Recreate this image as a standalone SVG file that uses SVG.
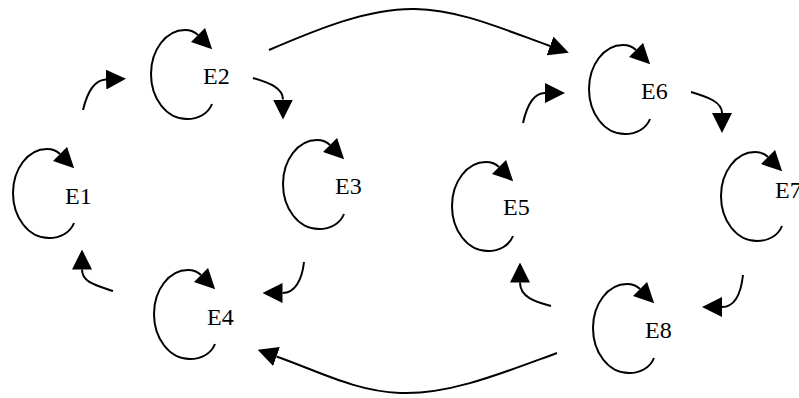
<svg xmlns="http://www.w3.org/2000/svg" xmlns:xlink="http://www.w3.org/1999/xlink" width="799" height="398" viewBox="0 0 799 398">
<style>
.ln{fill:none;stroke:#000;stroke-width:2;marker-end:url(#ah)}
.lb{font-family:"Liberation Serif","Times New Roman",serif;font-size:24px;fill:#000}
</style>
<defs>
<marker id="ah" markerUnits="userSpaceOnUse" markerWidth="20" markerHeight="20" viewBox="0 0 20 20" refX="0" refY="10" orient="auto">
<path d="M0,0 L20,10 L0,20 z" fill="#000"/>
</marker>
<path id="loop" class="ln" d="M9,20 C5,30 -5,35 -16,35 C-37,35 -52,14 -52,-10 C-52,-34 -37,-54 -18,-54 C-12,-54 -8,-52 -5,-49"/>
</defs>
<rect width="799" height="398" fill="#fff"/>
<g id="E1"><use xlink:href="#loop" transform="translate(65,203)"/><text class="lb" x="65" y="204">E1</text></g>
<g id="E2"><use xlink:href="#loop" transform="translate(203,84)"/><text class="lb" x="203" y="84">E2</text></g>
<g id="E3"><use xlink:href="#loop" transform="translate(335,194)"/><text class="lb" x="335" y="194">E3</text></g>
<g id="E4"><use xlink:href="#loop" transform="translate(206,324)"/><text class="lb" x="207" y="325">E4</text></g>
<g id="E5"><use xlink:href="#loop" transform="translate(504,216)"/><text class="lb" x="503" y="215">E5</text></g>
<g id="E6"><use xlink:href="#loop" transform="translate(641,99)"/><text class="lb" x="641" y="99">E6</text></g>
<g id="E7"><use xlink:href="#loop" transform="translate(773,206)"/><text class="lb" x="775" y="198">E7</text></g>
<g id="E8"><use xlink:href="#loop" transform="translate(645,338)"/><text class="lb" x="645" y="338">E8</text></g>
<g id="connectors">
<path class="ln" d="M83,110 C87,93 94,80 106,79.5"/>
<path class="ln" d="M253,78 C270,83 283,88 283,99.5"/>
<path class="ln" d="M269,50 C320,28 370,8 415,9 C460,10 500,28 550,46"/>
<path class="ln" d="M304,262 C302,280 295,293 282.5,293"/>
<path class="ln" d="M113,291 C95,285 82,282 82,269.5"/>
<path class="ln" d="M557,353 C505,372 450,395 400,393 C355,391 320,372 276.5,356.5"/>
<path class="ln" d="M551,306 C535,302 520,297 520,282.5"/>
<path class="ln" d="M743,275 C741,293 735,307 722,307"/>
<path class="ln" d="M691,92 C708,97 722,102 722,113"/>
<path class="ln" d="M523,123 C527,105 534,93 545,93"/>
</g>
</svg>
